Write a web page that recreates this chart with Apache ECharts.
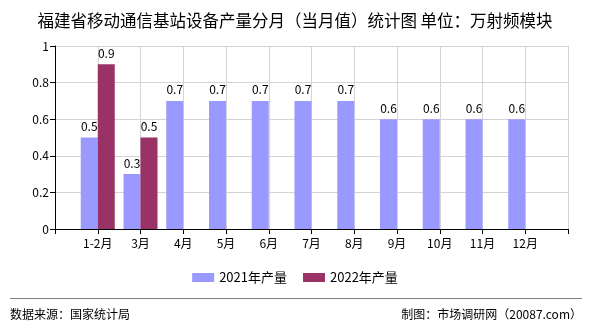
<!DOCTYPE html>
<html>
<head>
<meta charset="utf-8">
<script src="https://cdn.jsdelivr.net/npm/echarts@6/dist/echarts.min.js"></script>
<style>
  html, body { margin: 0; padding: 0; background: #fff; }
  #chart { width: 590px; height: 330px; }
</style>
</head>
<body>
<div id="chart"></div>
<script>
// Monthly output, padded with an empty slot on each side so ticks fall on category centres
const months = ['', '1-2月', '3月', '4月', '5月', '6月', '7月', '8月', '9月', '10月', '11月', '12月', ''];
const output2021 = [null, 0.5, 0.3, 0.7, 0.7, 0.7, 0.7, 0.7, 0.6, 0.6, 0.6, 0.6, null];
const output2022 = [null, 0.9, 0.5, null, null, null, null, null, null, null, null, null, null];
const yTicks = { min: 0, max: 1, interval: 0.2 };

const FONT = '"Noto Sans CJK SC", "Noto Sans", sans-serif';

const chart = echarts.init(document.getElementById('chart'), null, { renderer: 'canvas' });

const barLabel = {
  show: true,
  position: 'top',
  distance: 5,
  color: '#000',
  fontSize: 12,
  fontFamily: FONT,
  formatter: p => (p.value == null ? '' : String(p.value))
};

chart.setOption({
  animation: false,
  backgroundColor: '#fff',
  title: {
    text: '福建省移动通信基站设备产量分月（当月值）统计图 单位：万射频模块',
    left: 'center',
    top: 7,
    textStyle: { fontSize: 16.5, fontWeight: 'normal', color: '#000', fontFamily: FONT }
  },
  legend: {
    top: 266,
    left: 'center',
    itemWidth: 22,
    itemHeight: 9,
    itemGap: 16,
    icon: 'rect',
    textStyle: { fontSize: 13, color: '#000', fontFamily: FONT },
    data: ['2021年产量', '2022年产量']
  },
  grid: { left: 55, right: 22, top: 46, bottom: 101 },
  xAxis: {
    type: 'category',
    data: months,
    boundaryGap: false,
    axisLine: { lineStyle: { color: '#000', width: 1 } },
    axisTick: { show: true, length: 5, lineStyle: { color: '#000' } },
    axisLabel: { color: '#000', fontSize: 12, fontFamily: FONT, margin: 8, interval: 0 },
    splitLine: { show: true, lineStyle: { color: '#d4d4d4', width: 1 } }
  },
  yAxis: {
    type: 'value',
    min: yTicks.min,
    max: yTicks.max,
    interval: yTicks.interval,
    axisLine: { show: true, lineStyle: { color: '#000', width: 1 } },
    axisTick: { show: true, length: 5, lineStyle: { color: '#000' } },
    axisLabel: { color: '#000', fontSize: 12, fontFamily: FONT, margin: 6 },
    splitLine: { show: true, lineStyle: { color: '#d4d4d4', width: 1 } }
  },
  series: [
    {
      name: '2021年产量',
      type: 'bar',
      data: output2021,
      barWidth: 17,
      barGap: '0%',
      itemStyle: { color: '#9999FF' },
      label: barLabel
    },
    {
      name: '2022年产量',
      type: 'bar',
      data: output2022,
      barWidth: 17,
      barGap: '0%',
      itemStyle: { color: '#993366' },
      label: barLabel
    }
  ],
  graphic: [
    {
      type: 'line',
      shape: { x1: 10, y1: 298.5, x2: 582, y2: 298.5 },
      style: { stroke: '#808080', lineWidth: 1 }
    },
    {
      type: 'text',
      left: 10,
      top: 308,
      style: { text: '数据来源：国家统计局', fill: '#000', font: '12px ' + FONT }
    },
    {
      type: 'text',
      right: 8,
      top: 308,
      style: { text: '制图：市场调研网（20087.com）', fill: '#000', font: '12px ' + FONT }
    }
  ]
});
</script>
</body>
</html>
